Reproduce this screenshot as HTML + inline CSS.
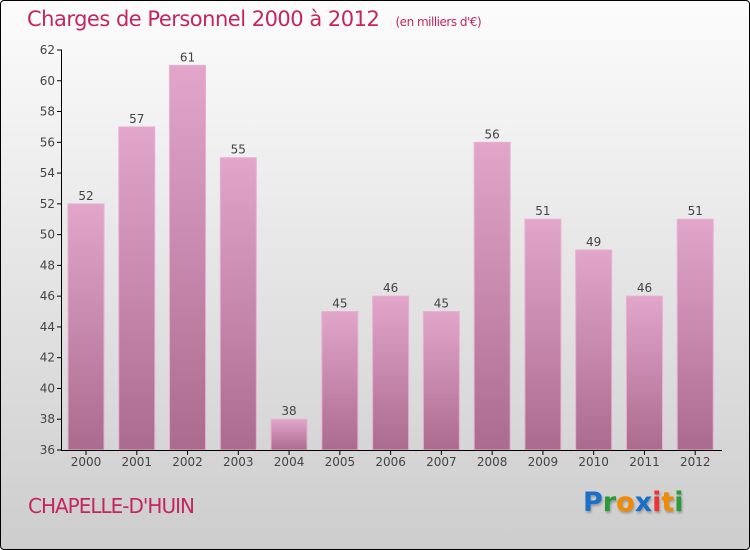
<!DOCTYPE html>
<html><head><meta charset="utf-8"><style>
body{margin:0}
#c{position:relative;width:748px;height:548px;border:1px solid #000;border-radius:4px;background:linear-gradient(#fcfcfc,#cdcdcd);overflow:hidden;font-family:"DejaVu Sans","Liberation Sans",sans-serif}
</style></head><body>
<div id="c">
<div style="position:absolute;left:26px;top:6px;font-size:21px;color:#c4265f;letter-spacing:-0.5px">Charges de Personnel 2000 à 2012 <span style="font-size:12px;margin-left:10px;color:#c4265f">(en milliers d'€)</span></div>
<div style="position:absolute;left:27px;top:493px;font-size:20px;color:#c4265f;letter-spacing:-1px">CHAPELLE-D'HUIN</div>
<div style="position:absolute;left:582px;top:486px;font-size:27px;font-weight:bold;font-family:'DejaVu Sans',sans-serif;text-shadow:1px 2px 2px #999"><span style="color:#1a6fc9">P</span><span style="color:#2a9a3a">r</span><span style="color:#f08a00">o</span><span style="color:#1a6fc9">x</span><span style="color:#e33">i</span><span style="color:#f08a00">t</span><span style="color:#2a9a3a">i</span></div>
<svg id="s" width="750" height="550" style="position:absolute;left:-1px;top:-1px">
<defs><linearGradient id="g" x1="0" y1="0" x2="0" y2="1"><stop offset="0" stop-color="#e2a6cb"/><stop offset="1" stop-color="#ab6b8e"/></linearGradient></defs>
</svg>
</div>
<script>
const years=["2000","2001","2002","2003","2004","2005","2006","2007","2008","2009","2010","2011","2012"];
const values=[52,57,61,55,38,45,46,45,56,51,49,46,51];
const ticks=[36,38,40,42,44,46,48,50,52,54,56,58,60,62];
const s=document.getElementById('s');const NS='http://www.w3.org/2000/svg';
const x0=62,x1=722,yMin=36,yMax=62,yTop=50,yBot=450;
const band=(x1-x0)/years.length;
function y(v){return yBot-(v-yMin)/(yMax-yMin)*(yBot-yTop);}
function mk(t,a){const e=document.createElementNS(NS,t);for(const k in a)e.setAttribute(k,a[k]);s.appendChild(e);return e;}
ticks.forEach(t=>{
const l=mk('line',{x1:57,x2:62,y1:y(t),y2:y(t),stroke:'#000'});


const tx=mk('text',{x:55,y:y(t)+4,'text-anchor':'end','font-size':12,fill:'#444','font-family':'DejaVu Sans, sans-serif'});
tx.textContent=t;


});
years.forEach((yr,i)=>{
const bx=x0+i*band+6,bw=36,by=y(values[i]);
const r=mk('rect',{x:bx,y:by,width:bw,height:yBot-by,fill:'url(#g)',stroke:'#e8b0d2','stroke-width':1});


const v=mk('text',{x:bx+bw/2,y:by-4,'text-anchor':'middle','font-size':12,fill:'#444','font-family':'DejaVu Sans, sans-serif'});
v.textContent=values[i];


const t=mk('line',{x1:bx+bw/2,x2:bx+bw/2,y1:450,y2:455,stroke:'#000'});


const xl=mk('text',{x:bx+bw/2,y:466,'text-anchor':'middle','font-size':12,fill:'#444','font-family':'DejaVu Sans, sans-serif'});
xl.textContent=yr;


});
const ax=mk('line',{x1:61.5,x2:61.5,y1:50,y2:450,stroke:'#000'});


const bx2=mk('line',{x1:61,x2:722,y1:450.5,y2:450.5,stroke:'#000'});


</script>
</body></html>
